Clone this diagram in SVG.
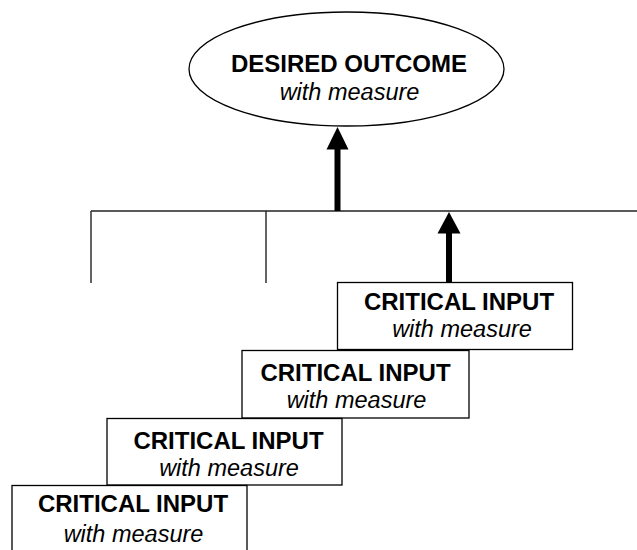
<svg xmlns="http://www.w3.org/2000/svg" width="637" height="550" viewBox="0 0 637 550">
<style>
.shape{fill:#fff;stroke:#000;stroke-width:1.3}
.b{font-family:"Liberation Sans",Arial,sans-serif;font-weight:bold;font-size:24px;fill:#000;text-anchor:middle}
.i{font-family:"Liberation Sans",Arial,sans-serif;font-style:italic;font-size:23.5px;fill:#000;text-anchor:middle}
.ln{stroke:#222;stroke-width:1.4;fill:none}
.shaft{stroke:#000;stroke-width:6;fill:none}
</style>
<rect width="637" height="550" fill="#fff"/>
<g id="connectors">
<line class="ln" x1="91" y1="211" x2="637" y2="211"/>
<line class="ln" x1="91" y1="211" x2="91" y2="283"/>
<line class="ln" x1="266" y1="211" x2="266" y2="283"/>
<line class="shaft" x1="337.5" y1="211" x2="337.5" y2="147"/>
<polygon points="337.5,127 326.5,149.5 348.5,149.5" fill="#000"/>
<line class="shaft" x1="449" y1="282" x2="449" y2="231"/>
<polygon points="449,212 437.5,233.5 460.5,233.5" fill="#000"/>
</g>
<g id="outcome">
<ellipse class="shape" cx="346.5" cy="69" rx="157.5" ry="57"/>
<text class="b" x="349" y="71.5">DESIRED OUTCOME</text>
<text class="i" x="349.5" y="99.5">with measure</text>
</g>
<g id="input1">
<rect class="shape" x="337.5" y="282.5" width="235" height="67"/>
<text class="b" x="459" y="309.5">CRITICAL INPUT</text>
<text class="i" x="462" y="336.5">with measure</text>
</g>
<g id="input2">
<rect class="shape" x="242" y="350.5" width="227" height="67.5"/>
<text class="b" x="355.5" y="381">CRITICAL INPUT</text>
<text class="i" x="356.5" y="408">with measure</text>
</g>
<g id="input3">
<rect class="shape" x="107" y="418.5" width="235" height="66.5"/>
<text class="b" x="228.5" y="449">CRITICAL INPUT</text>
<text class="i" x="229" y="475.5">with measure</text>
</g>
<g id="input4">
<rect class="shape" x="12" y="485.5" width="235" height="70"/>
<text class="b" x="133" y="512">CRITICAL INPUT</text>
<text class="i" x="133.5" y="541.5">with measure</text>
</g>
</svg>
